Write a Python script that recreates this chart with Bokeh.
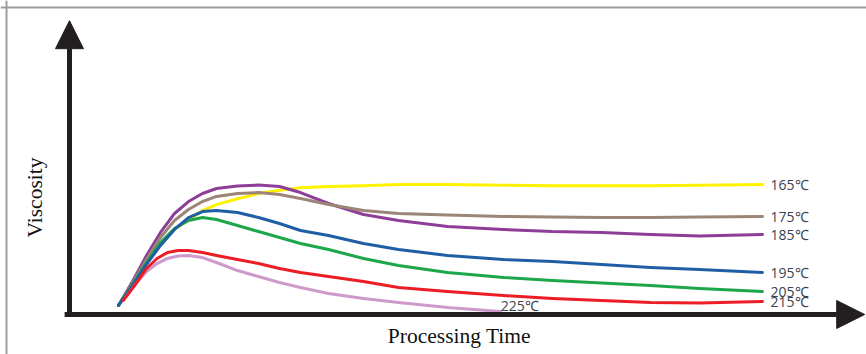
from bokeh.plotting import figure
from bokeh.models import Range1d, Arrow, NormalHead, Span, ColumnDataSource
from bokeh.core.properties import value
from bokeh.embed import file_html
from bokeh.resources import INLINE

# ---- data (arbitrary units: processing time vs. viscosity) ----
time_a = [7, 9, 11, 13, 15, 17, 19, 21, 24, 27, 30, 33, 37, 42, 47, 54, 62, 69, 76, 83, 90, 99]
visc_165 = [7, 25, 41.5, 54.5, 65.5, 72.5, 80, 84.5, 89, 93, 95.5, 97.5, 98.5, 99, 100, 100, 99.5, 99, 99, 99, 99.5, 100]
visc_175 = [7, 24, 42.3, 59.2, 72.3, 80.8, 86.9, 90.8, 93.1, 93.8, 92.3, 89.2, 84.6, 80, 77.7, 76.5, 75.4, 75, 74.6, 74.6, 75, 75.4]
visc_185 = [7, 25.4, 45.4, 63.1, 77.7, 86.9, 93.1, 96.9, 98.8, 99.6, 98.5, 93.8, 85.4, 76.9, 72.3, 67.7, 65.4, 63.8, 63.1, 61.5, 60.4, 61.5]
visc_195 = [7, 22.3, 38.5, 53.1, 65.4, 74.6, 79.2, 80, 78.5, 74.6, 70, 64.6, 60.8, 54.6, 50, 45.4, 42.3, 40.8, 38.5, 36.2, 34.6, 32.3]
visc_205 = [7, 23.1, 40, 55.4, 66.2, 72.3, 74.6, 73.1, 68.5, 63.8, 59.2, 54.6, 50, 43.1, 37.7, 32.3, 28.5, 26.2, 24.2, 22.3, 20, 17.7]

time_215 = [7.7, 9.5, 11, 12.5, 14, 15.5, 17, 19, 21, 24, 27, 30, 33, 37, 42, 47, 54, 62, 69, 76, 83, 90, 99]
visc_215 = [10.8, 23.8, 35.4, 43.1, 47.7, 49.2, 49.2, 47.7, 45.4, 42.3, 39.2, 35.4, 32.3, 29.2, 25.4, 20.8, 17.7, 14.6, 12.3, 10.8, 9.2, 8.8, 10]

time_225 = [8, 9.5, 11, 12.5, 14, 15.5, 17, 19, 21, 24, 27, 30, 33, 37, 42, 47, 54, 61.6]
visc_225 = [13.1, 23.8, 33.1, 39.2, 43.1, 45, 45.4, 43.8, 40, 33.8, 29.2, 24.6, 20.8, 16.2, 12.3, 9.2, 5.4, 2.3]

labels = ["165℃", "175℃", "185℃", "195℃", "205℃", "215℃", "225℃"]
colors = ["#FFF200", "#9A8576", "#8E3E98", "#1F5DA5", "#1DA64A", "#EC1D25", "#CD9ACB"]

series = [
    (time_a, visc_165), (time_a, visc_175), (time_a, visc_185),
    (time_a, visc_195), (time_a, visc_205), (time_215, visc_215), (time_225, visc_225),
]

X0, X1 = -9.857, 113.857
Y0, Y1 = -30.77, 241.54

p = figure(width=866, height=354, output_backend="svg", toolbar_location=None,
           x_range=Range1d(X0, X1), y_range=Range1d(Y0, Y1),
           x_axis_type=None, y_axis_type=None, min_border=0)
p.grid.visible = False
p.outline_line_color = None
p.background_fill_color = "white"

# border (top and left, as in the cropped original)
p.add_layout(Span(location=-9.0, dimension="height", line_color="#9d9d9d", line_width=2))
p.add_layout(Span(location=236.2, dimension="width", line_color="#9d9d9d", line_width=2))

# curves (draw order so that red/blue sit on top like the original)
order = [0, 2, 1, 4, 3, 6, 5]
for i in order:
    xs, ys = series[i]
    p.line(xs, ys, line_color=colors[i], line_width=3, line_join="round", line_cap="round")

# end labels
main_idx = [0, 1, 2, 3, 4, 5]
lab_src = ColumnDataSource(dict(
    x=[series[i][0][-1] for i in main_idx],
    y=[series[i][1][-1] for i in main_idx],
    t=[labels[i] for i in main_idx],
))
p.text(x="x", y="y", text="t", source=lab_src, x_offset=8, text_align="left",
       text_baseline="middle", text_font=value("Open Sans"), text_font_size="14px",
       text_color="#3b4250")
p.text(x=[time_225[-1]], y=[visc_225[-1]], text=[labels[6]], x_offset=0, y_offset=-6,
       text_align="left", text_baseline="middle", text_font=value("Open Sans"),
       text_font_size="14px", text_color="#3b4250")

# axes with arrow heads
axis_col = "#231F20"
p.add_layout(Arrow(x_start=0, y_start=-1.5, x_end=0, y_end=226,
                   line_width=5, line_color=axis_col,
                   end=NormalHead(size=28, fill_color=axis_col, line_color=axis_col)))
p.add_layout(Arrow(x_start=-0.7, y_start=0, x_end=113.6, y_end=0,
                   line_width=5, line_color=axis_col,
                   end=NormalHead(size=28, fill_color=axis_col, line_color=axis_col)))

# axis titles
p.text(x=[-4.86], y=[90], text=["Viscosity"], angle=1.5708, text_align="center",
       text_baseline="middle", text_font=value("Liberation Serif"),
       text_font_size="21.5px", text_color="#111111")
p.text(x=[55.7], y=[-16.2], text=["Processing Time"], text_align="center",
       text_baseline="middle", text_font=value("Liberation Serif"),
       text_font_size="21.5px", text_color="#111111")

open("out.html", "w").write(file_html(p, INLINE))
